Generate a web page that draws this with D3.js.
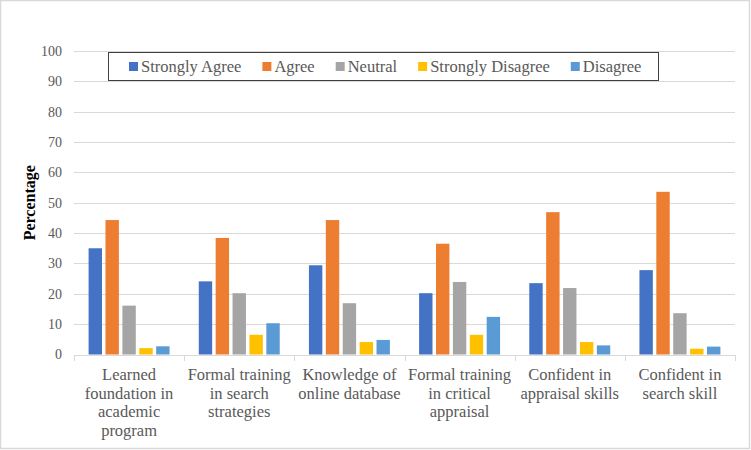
<!DOCTYPE html>
<html>
<head>
<meta charset="utf-8">
<script src="https://cdn.jsdelivr.net/npm/d3@7"></script>
<style>
  html, body { margin: 0; padding: 0; background: #fff; }
  svg { display: block; }
</style>
</head>
<body>
<svg id="chart" width="751" height="450"></svg>
<script>
// ---- data ----
const categories = [
  "Learned\nfoundation in\nacademic\nprogram",
  "Formal training\nin search\nstrategies",
  "Knowledge of\nonline database",
  "Formal training\nin critical\nappraisal",
  "Confident in\nappraisal skills",
  "Confident in\nsearch skill"
];
const seriesNames = ["Strongly Agree", "Agree", "Neutral", "Strongly Disagree", "Disagree"];
const stronglyAgree    = [35.0, 24.1, 29.4, 20.2, 23.5, 27.8];
const agree            = [44.3, 38.4, 44.3, 36.5, 46.9, 53.6];
const neutral          = [16.1, 20.2, 16.9, 23.9, 21.9, 13.6];
const stronglyDisagree = [2.1, 6.5, 4.1, 6.5, 4.1, 1.9];
const disagree         = [2.7, 10.3, 4.8, 12.4, 3.0, 2.6];
const yTicks = [0, 10, 20, 30, 40, 50, 60, 70, 80, 90, 100];
const colors = ["#4472C4", "#ED7D31", "#A5A5A5", "#FFC000", "#5B9BD5"];

const seriesValues = [stronglyAgree, agree, neutral, stronglyDisagree, disagree];

// ---- layout ----
const svg = d3.select("#chart");
const W = 751, H = 450;
const plot = { left: 74, right: 735, top: 51, bottom: 354.5 };

svg.append("rect").attr("x", 0.5).attr("y", 0.5).attr("width", W - 2).attr("height", H - 2)
  .attr("fill", "#fff").attr("stroke", "#d9d9d9").attr("stroke-width", 1.5);

const y = d3.scaleLinear().domain([0, 100]).range([plot.bottom, plot.top]);
const x0 = d3.scaleBand().domain(d3.range(categories.length))
  .range([plot.left, plot.right]).paddingInner(0.265).paddingOuter(0.1325);
const x1 = d3.scaleBand().domain(d3.range(seriesNames.length))
  .range([0, x0.bandwidth()]).paddingInner(0.207).paddingOuter(0);

// gridlines
svg.append("g").selectAll("line").data(yTicks.filter(d => d > 0)).join("line")
  .attr("x1", plot.left).attr("x2", plot.right)
  .attr("y1", d => Math.round(y(d)) + 0.5).attr("y2", d => Math.round(y(d)) + 0.5)
  .attr("stroke", "#d9d9d9").attr("stroke-width", 1);

// y axis labels
const yAxis = d3.axisLeft(y).tickValues(yTicks).tickSize(0).tickPadding(12);
const yg = svg.append("g").attr("transform", `translate(${plot.left},0)`).call(yAxis);
yg.select(".domain").remove();
yg.selectAll("text").attr("font-family", "'Liberation Serif', 'Times New Roman', serif")
  .attr("font-size", 14).attr("fill", "#595959");

// bars
const step = x0.step();
svg.append("g").selectAll("g").data(seriesValues).join("g")
  .attr("fill", (d, i) => colors[i])
  .each(function(vals, si) {
    d3.select(this).selectAll("rect").data(vals).join("rect")
      .attr("x", (v, ci) => x0(ci) + x1(si))
      .attr("width", x1.bandwidth())
      .attr("y", v => y(v))
      .attr("height", v => y(0) - y(v));
  });

// x axis baseline + category ticks
const xb = d3.scaleLinear().domain([0, categories.length]).range([plot.left, plot.right]);
svg.append("line").attr("x1", plot.left).attr("x2", plot.right)
  .attr("y1", Math.round(y(0)) + 0.5).attr("y2", Math.round(y(0)) + 0.5)
  .attr("stroke", "#d9d9d9");
svg.append("g").selectAll("line").data(d3.range(categories.length + 1)).join("line")
  .attr("x1", d => Math.round(xb(d)) + 0.5).attr("x2", d => Math.round(xb(d)) + 0.5)
  .attr("y1", Math.round(y(0))).attr("y2", Math.round(y(0)) + 6)
  .attr("stroke", "#d9d9d9");

// category labels
const catG = svg.append("g").attr("font-family", "'Liberation Serif', 'Times New Roman', serif")
  .attr("font-size", 16.5).attr("fill", "#595959").attr("text-anchor", "middle");
categories.forEach((c, i) => {
  const t = catG.append("text").attr("x", x0(i) + x0.bandwidth() / 2).attr("y", 380);
  c.split("\n").forEach((line, li) => {
    t.append("tspan").attr("x", x0(i) + x0.bandwidth() / 2).attr("dy", li === 0 ? 0 : 18.7).text(line);
  });
});

// y axis title
svg.append("text")
  .attr("transform", `translate(35,${(plot.top + plot.bottom) / 2}) rotate(-90)`)
  .attr("text-anchor", "middle")
  .attr("font-family", "'Liberation Serif', 'Times New Roman', serif")
  .attr("font-size", 16).attr("font-weight", "bold").attr("fill", "#000")
  .text("Percentage");

// legend
const lg = svg.append("g");
lg.append("rect").attr("x", 108.5).attr("y", 52.5).attr("width", 550).attr("height", 28)
  .attr("fill", "#fff").attr("stroke", "#404040").attr("stroke-width", 1);
let lx = 129;
seriesNames.forEach((name, i) => {
  lg.append("rect").attr("x", lx).attr("y", 62).attr("width", 9).attr("height", 9).attr("fill", colors[i]);
  const t = lg.append("text").attr("x", lx + 12).attr("y", 72)
    .attr("font-family", "'Liberation Serif', 'Times New Roman', serif")
    .attr("font-size", 16.5).attr("fill", "#595959").text(name);
  lx += 12 + t.node().getComputedTextLength() + 21;
});
</script>
</body>
</html>
